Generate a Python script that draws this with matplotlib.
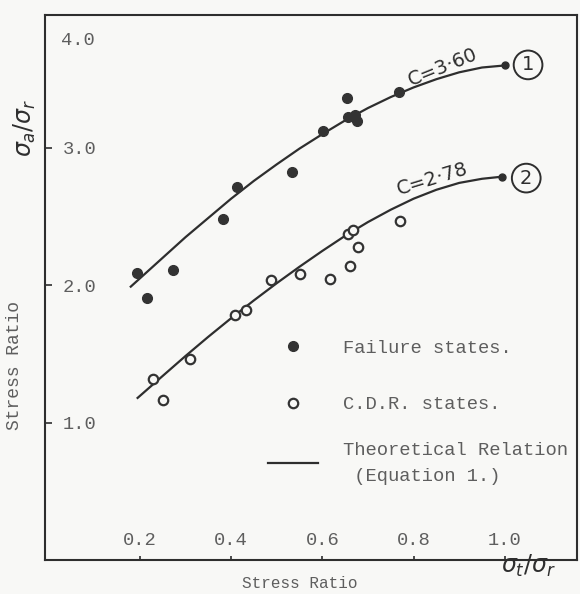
import matplotlib
matplotlib.use('Agg')
import matplotlib.pyplot as plt
from matplotlib.lines import Line2D

# failure states (filled dots)
fail_x = [0.193, 0.215, 0.273, 0.382, 0.412, 0.533, 0.602, 0.655, 0.657, 0.672, 0.675, 0.767]
fail_y = [2.089, 1.907, 2.108, 2.481, 2.714, 2.823, 3.124, 3.366, 3.228, 3.240, 3.199, 3.405]

# C.D.R. states (open circles)
cdr_x = [0.229, 0.251, 0.310, 0.409, 0.432, 0.487, 0.551, 0.617, 0.661, 0.679, 0.657, 0.668, 0.770]
cdr_y = [1.318, 1.167, 1.463, 1.785, 1.817, 2.040, 2.084, 2.045, 2.142, 2.278, 2.375, 2.404, 2.471]

# theoretical relation
c1_x = [0.18, 0.25, 0.30, 0.35, 0.40, 0.45, 0.50, 0.55, 0.60, 0.65, 0.70, 0.75, 0.80, 0.85, 0.90, 0.95, 1.00]
c1_y = [1.99, 2.20, 2.35, 2.49, 2.63, 2.76, 2.88, 2.995, 3.10, 3.20, 3.29, 3.37, 3.44, 3.50, 3.55, 3.585, 3.60]
c2_x = [0.195, 0.25, 0.30, 0.35, 0.40, 0.45, 0.50, 0.55, 0.60, 0.65, 0.70, 0.75, 0.80, 0.85, 0.90, 0.95, 0.993]
c2_y = [1.18, 1.34, 1.485, 1.625, 1.76, 1.89, 2.015, 2.135, 2.25, 2.36, 2.46, 2.55, 2.63, 2.695, 2.745, 2.775, 2.79]

xticks = [0.2, 0.4, 0.6, 0.8, 1.0]
xtick_labels = ['0.2', '0.4', '0.6', '0.8', '1.0']
yticks = [1.0, 2.0, 3.0]
ytick_labels = ['1.0', '2.0', '3.0']

ink = '#2e2e2e'
typed = '#5e5e5e'
paper = '#f8f8f6'
mono = 'Liberation Mono'

fig = plt.figure(figsize=(5.8, 5.94), dpi=100, facecolor=paper)
ax = fig.add_axes([0.0776, 0.0572, 0.917, 0.9175])
ax.set_facecolor(paper)

ax.plot(c1_x, c1_y, color=ink, lw=1.6, marker='o', ms=5, markevery=[-1])
ax.plot(c2_x, c2_y, color=ink, lw=1.6, marker='o', ms=5, markevery=[-1])
ax.plot(fail_x, fail_y, 'o', color='#333333', ms=7, ls='none')
ax.plot(cdr_x, cdr_y, 'o', mfc=paper, mec='#333333', mew=1.6, ms=6.8, ls='none')

ax.set_xlim(-0.008, 1.158)
ax.set_ylim(0, 3.967)

for s in ax.spines.values():
    s.set_color(ink)
    s.set_linewidth(1.5)

ax.set_xticks(xticks)
ax.set_xticklabels(xtick_labels, fontsize=13.5, family=mono, color=typed)
ax.set_yticks(yticks)
ax.set_yticklabels(ytick_labels, fontsize=13.5, family=mono, color=typed)
ax.tick_params(axis='x', direction='in', length=3, width=1.2, color=ink, pad=-8)
ax.tick_params(axis='y', direction='in', length=5, width=1.2, color=ink, pad=-12.5)
for lab in ax.get_xticklabels():
    lab.set_verticalalignment('bottom')
for lab in ax.get_yticklabels():
    lab.set_horizontalalignment('left')

# the typed 4.0 sits lower than its true place on the original
ax.text(0.031, 3.78, '4.0', transform=ax.get_yaxis_transform(), fontsize=13.5,
        family=mono, color=typed, va='center', ha='left')

# curve labels
ax.text(0.865, 3.59, 'C=3·60', rotation=22, fontsize=14, color=ink,
        ha='center', va='center')
ax.text(0.841, 2.77, 'C=2·78', rotation=17, fontsize=14, color=ink,
        ha='center', va='center')
ax.text(1.051, 3.604, '1', fontsize=14, color=ink, ha='center', va='center',
        bbox=dict(boxstyle='circle,pad=0.25', fc='none', ec=ink, lw=1.4))
ax.text(1.047, 2.78, '2', fontsize=14, color=ink, ha='center', va='center',
        bbox=dict(boxstyle='circle,pad=0.25', fc='none', ec=ink, lw=1.4))

# key: the two point kinds, then the theoretical line a little closer below
pt_handles = [Line2D([], [], marker='o', ls='none', color='#333333', ms=7),
              Line2D([], [], marker='o', ls='none', mfc=paper, mec='#333333', mew=1.6, ms=6.8)]
leg = ax.legend(pt_handles, ['Failure states.', 'C.D.R. states.'], loc='upper left',
                bbox_to_anchor=(0.419, 0.404), frameon=False,
                prop={'family': mono, 'size': 13.5}, handlelength=2.67,
                handletextpad=1.33, labelspacing=2.1, borderpad=0, borderaxespad=0)
for t in leg.get_texts():
    t.set_color(typed)
ax.add_artist(leg)

leg2 = ax.legend([Line2D([], [], color=ink, lw=1.6)],
                 ['Theoretical Relation\n (Equation 1.)'], loc='upper left',
                 bbox_to_anchor=(0.419, 0.217), frameon=False,
                 prop={'family': mono, 'size': 13.5}, handlelength=2.67,
                 handletextpad=1.33, borderpad=0, borderaxespad=0)
for t in leg2.get_texts():
    t.set_color(typed)
    t.set_linespacing(1.7)

# axis titles
fig.text(25 / 580, 1 - 128 / 594, r'$\sigma_a/\sigma_r$', rotation=90, fontsize=17,
         color=ink, ha='center', va='center')
fig.text(15 / 580, 1 - 365 / 594, 'Stress Ratio', rotation=90, fontsize=13,
         family=mono, color=typed, ha='center', va='center')
fig.text(300 / 580, 1 - 583 / 594, 'Stress Ratio', fontsize=11.5,
         family=mono, color=typed, ha='center', va='center')
fig.text(528 / 580, 1 - 566 / 594, r'$\sigma_t/\sigma_r$', fontsize=17,
         color=ink, ha='center', va='center')

fig.savefig('out.png', dpi=100, facecolor=paper)
